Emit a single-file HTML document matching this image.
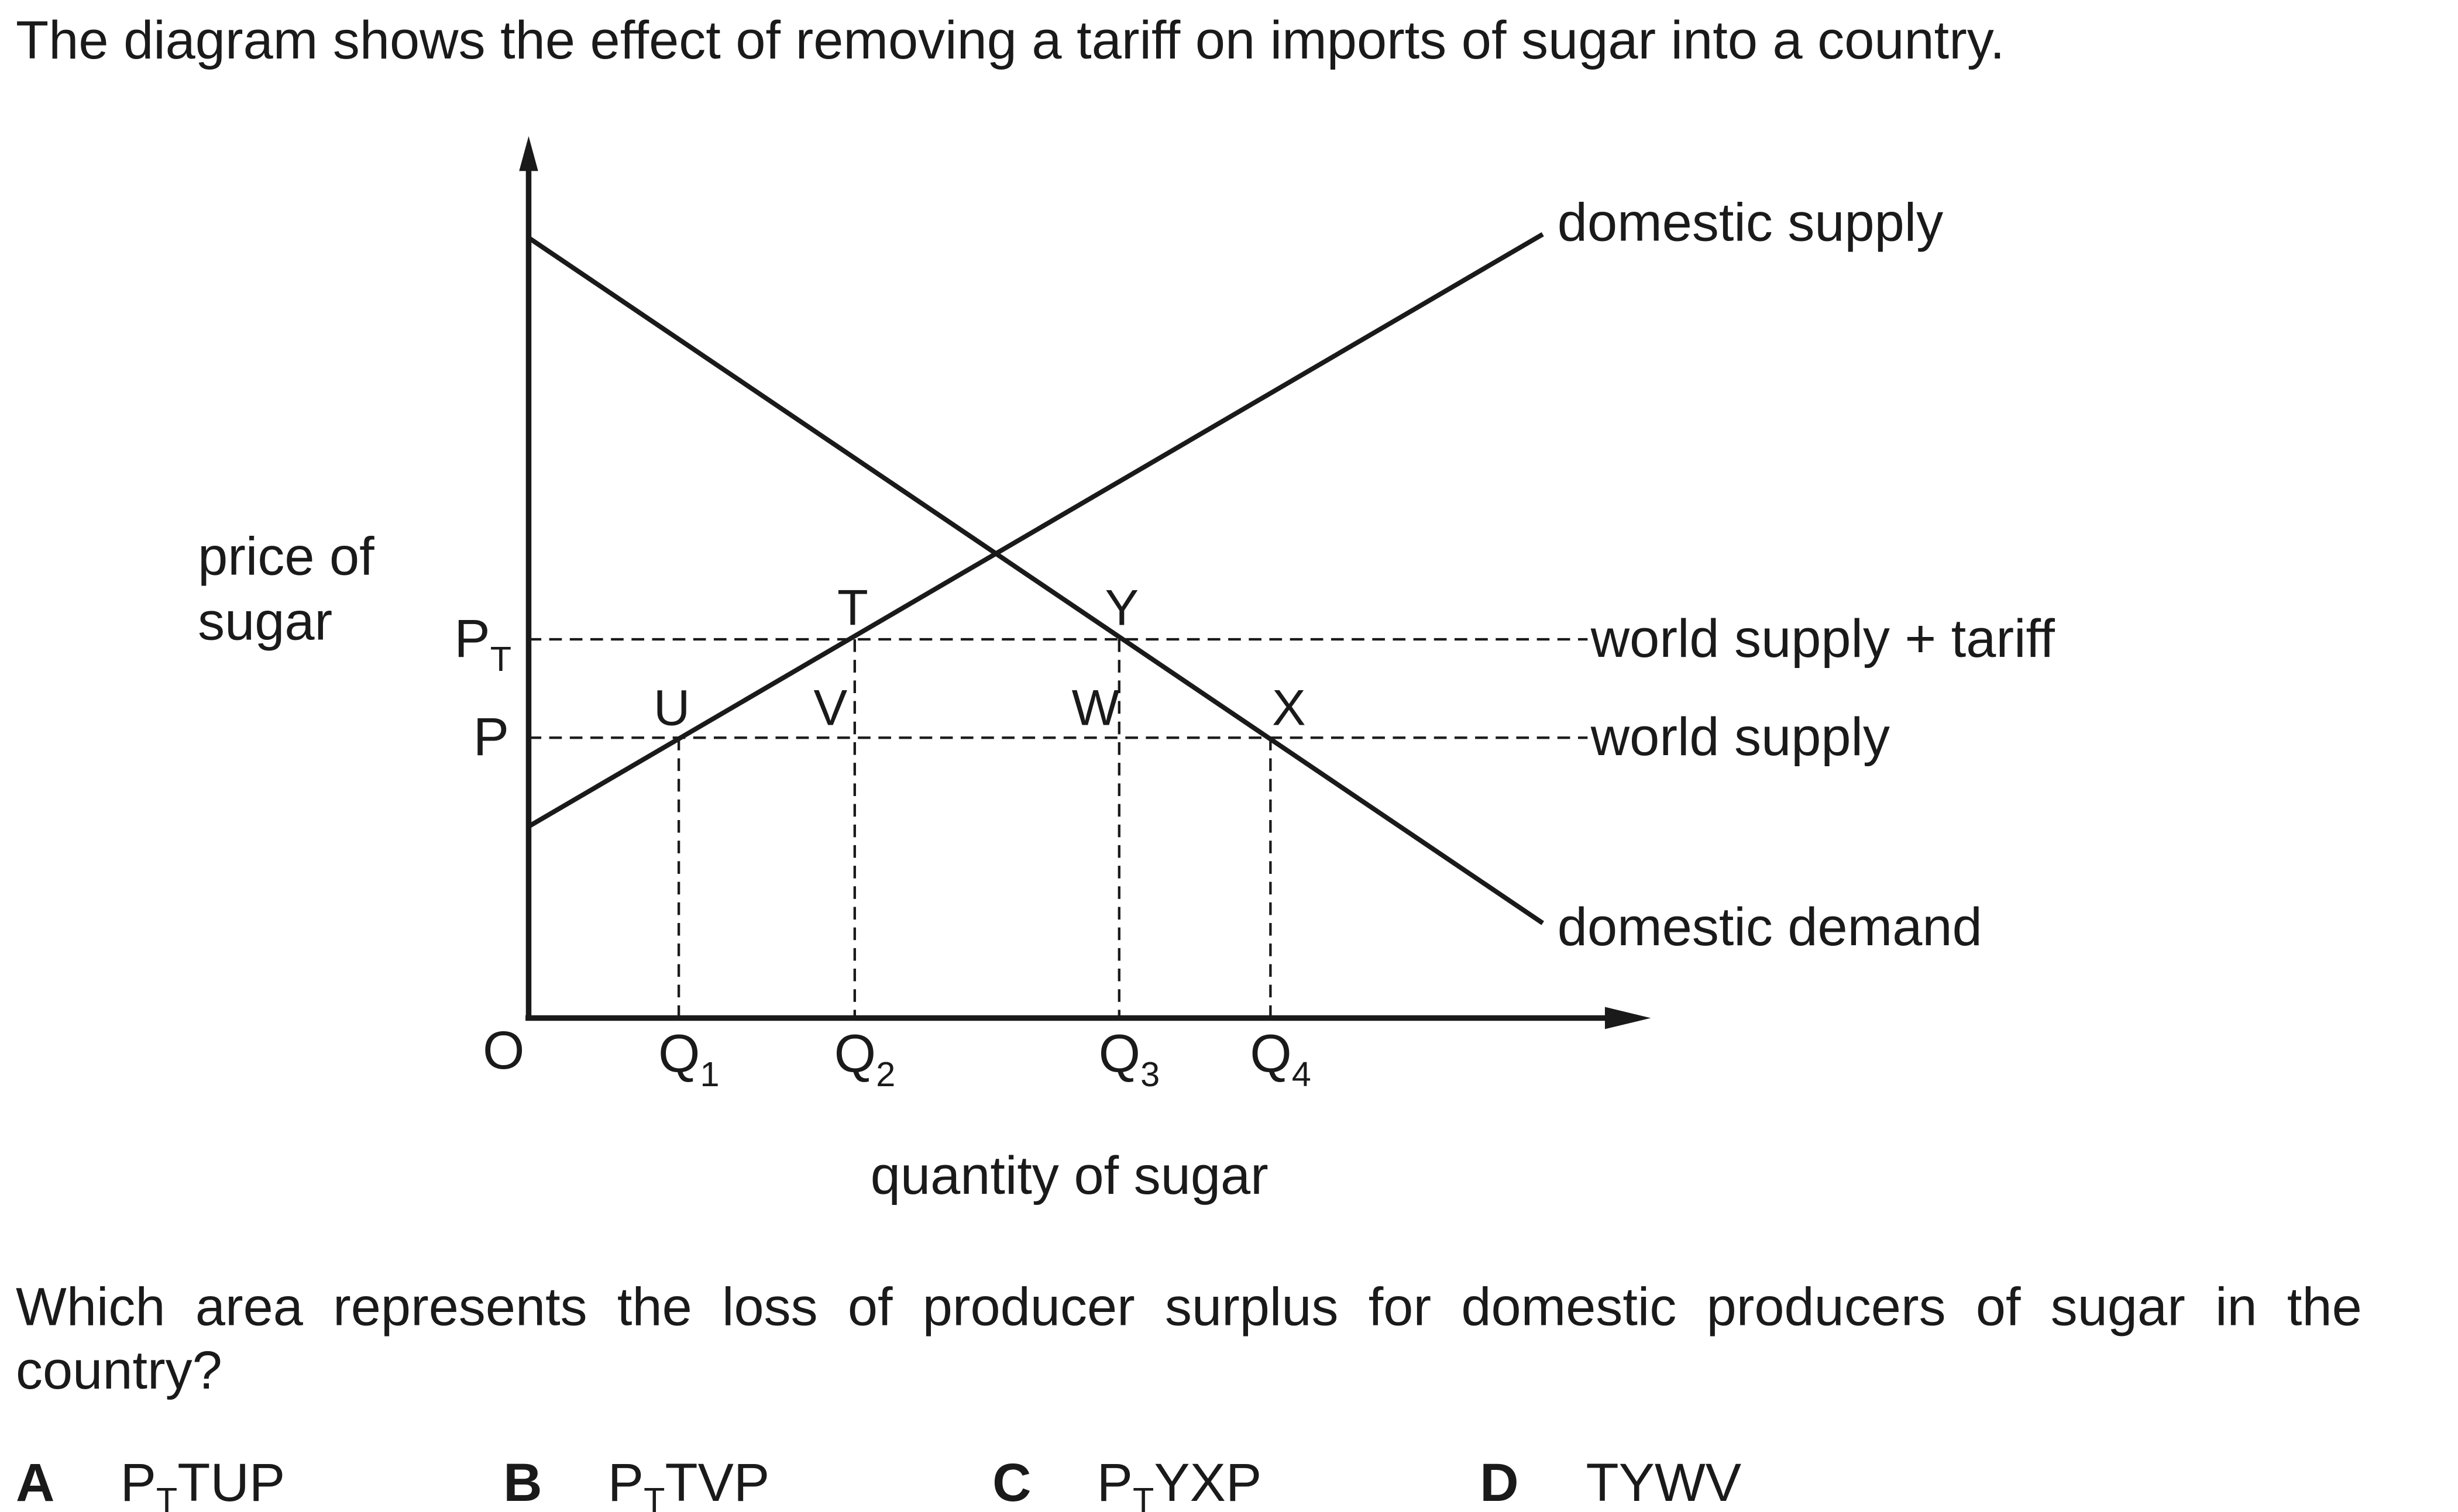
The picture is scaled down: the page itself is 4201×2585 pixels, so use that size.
<!DOCTYPE html>
<html><head><meta charset="utf-8"><style>
html,body{margin:0;padding:0;background:#fff;}
svg{display:block;}
text{font-family:"Liberation Sans",Arial,sans-serif;fill:#1a1a1a;}
</style></head><body>
<svg id="chart" width="4201" height="2585" viewBox="0 0 1553 955" preserveAspectRatio="none" xmlns="http://www.w3.org/2000/svg">
<text x="10" y="37" font-size="34">The diagram shows the effect of removing a tariff on imports of sugar into a country.</text>
<g id="plot"></g>
<text x="125" y="363" font-size="34">price of</text>
<text x="125" y="404" font-size="34">sugar</text>
<text x="305" y="675" font-size="34">O</text>
<text x="550" y="754" font-size="34">quantity of sugar</text>
<text x="984" y="152" font-size="34">domestic supply</text>
<text x="984" y="597" font-size="34">domestic demand</text>
<text x="10" y="837" font-size="34" word-spacing="9.5">Which area represents the loss of producer surplus for domestic producers of sugar in the</text>
<text x="10" y="877" font-size="34">country?</text>
<g font-size="34">
<text x="10" y="948"><tspan font-weight="bold">A</tspan><tspan x="76">P</tspan><tspan font-size="22" dy="7">T</tspan><tspan dy="-7">TUP</tspan></text>
<text x="318" y="948"><tspan font-weight="bold">B</tspan><tspan x="384">P</tspan><tspan font-size="22" dy="7">T</tspan><tspan dy="-7">TVP</tspan></text>
<text x="627" y="948"><tspan font-weight="bold">C</tspan><tspan x="693">P</tspan><tspan font-size="22" dy="7">T</tspan><tspan dy="-7">YXP</tspan></text>
<text x="935" y="948"><tspan font-weight="bold">D</tspan><tspan x="1002">TYWV</tspan></text>
</g>
</svg>
<script>
const qLabels=["1","2","3","4"];
const qValues=[13.4,29.1,52.7,66.2];
const qTops=[31.9,43.1,43.1,31.9];
const priceNames=["T",""];
const priceValues=[43.1,31.9];
const priceLineLabels=["world supply + tariff","world supply"];
const demandQ=[0,90.5];
const demandP=[88.8,10.8];
const supplyQ=[0,90.5];
const supplyP=[21.8,89.2];
const pointNames=["T","Y","U","V","W","X"];
const pointQ=[29.1,52.7,13.4,29.1,52.7,66.2];
const pointP=[43.1,43.1,31.9,31.9,31.9,31.9];
const pointDx=[-2,0,-7,-17,-21,10];
const pointDy=[-9,-9,-8,-8,-8,-8];

const X=q=>334+q*7.08;
const Y=p=>643-p*5.55;
const NS="http://www.w3.org/2000/svg";
const g=document.getElementById('plot');
function mk(tag,attrs){const e=document.createElementNS(NS,tag);for(const k in attrs)e.setAttribute(k,attrs[k]);g.appendChild(e);return e;}
const c="#1a1a1a";
priceValues.forEach((p,i)=>{
 const l=mk('line',{x1:X(0),y1:Y(p),x2:X(94.5),y2:Y(p),stroke:c,'stroke-width':1.6,'stroke-dasharray':'8,5'});
 
 
 const t=mk('text',{x:X(94.5)+2,y:Y(p)+11,'font-size':34});t.textContent=priceLineLabels[i];
 
 
 const pt=mk('text',{x:i==0?287:299,y:Y(p)+11,'font-size':34});
 pt.innerHTML='P'+(priceNames[i]?'<tspan font-size="22" dy="9">'+priceNames[i]+'</tspan>':'');
 
 
});
qValues.forEach((q,i)=>{
 const l=mk('line',{x1:X(q),y1:Y(qTops[i]),x2:X(q),y2:Y(0),stroke:c,'stroke-width':1.6,'stroke-dasharray':'8,5'});
 
 
 const t=mk('text',{x:X(q)-13,y:677,'font-size':34});
 t.innerHTML='Q<tspan font-size="22" dy="9">'+qLabels[i]+'</tspan>';
 
 
});
const d=mk('line',{x1:X(demandQ[0]),y1:Y(demandP[0]),x2:X(demandQ[1]),y2:Y(demandP[1]),stroke:c,'stroke-width':3});


const s=mk('line',{x1:X(supplyQ[0]),y1:Y(supplyP[0]),x2:X(supplyQ[1]),y2:Y(supplyP[1]),stroke:c,'stroke-width':3});


pointNames.forEach((n,i)=>{
 const t=mk('text',{x:X(pointQ[i])+pointDx[i]-9,y:Y(pointP[i])+pointDy[i],'font-size':32});t.textContent=n;
 
 
});
const ya=mk('line',{x1:334,y1:643,x2:334,y2:100,stroke:c,'stroke-width':3.5});


const yh=mk('polygon',{points:'334,86 328,108 340,108',fill:c});


const xa=mk('line',{x1:332,y1:643,x2:1025,y2:643,stroke:c,'stroke-width':3.5});


const xh=mk('polygon',{points:'1043,643 1014,636 1014,650',fill:c});


</script>
</body></html>
